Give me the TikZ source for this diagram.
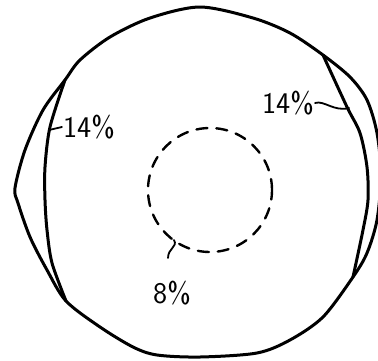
\documentclass[tikz,border=0pt]{standalone}
\usepackage{fontspec}
\usepackage{tikz}
\usetikzlibrary{positioning}

\begin{document}
\begin{tikzpicture}[x=1pt, y=-1pt, line cap=round, line join=round,
  outline/.style={line width=3pt},
  zone/.style={line width=2.4pt, dash pattern=on 11pt off 9pt},
  pct/.style={font=\sffamily\fontsize{30}{30}\selectfont, inner sep=1pt},
  pointer/.style={line width=1.8pt}]
  \useasboundingbox (0,0) rectangle (378,360);

  % Outline
  \draw[outline] plot[smooth cycle, tension=0.5] coordinates {
    (200,7) (253,18) (290,33) (323,55) (350,77) (367,100) (377,133)
    (381,175) (377,220) (367,253) (353,277) (323,317) (290,340)
    (257,353) (200,357) (157,355) (133,347) (100,327) (66,301)
    (47,270) (30,237) (18,203) (15,188) (25,150) (43,110) (65,80)
    (80,60) (110,37) (150,18)};

  % Segments
  \draw[outline] plot[smooth, tension=0.5] coordinates {
    (65,80) (50,127) (45,167) (45,200) (47,230) (52,263) (66,301)};
  \draw[outline] plot[smooth, tension=0.5] coordinates {
    (323,55) (347,107) (360,133) (367,167) (368,200) (363,230) (353,277)};

  % Inner zone
  \draw[zone] (210,190) circle[radius=62pt];
  \coordinate (zonehit) at (174,240);

  % Labels
  \node[pct] (leftpct) at (89,127) {14\%};
  \node[pct] (rightpct) at (288,103) {14\%};
  \node[pct] (zonepct) at (172,293) {8\%};

  % Pointers
  \coordinate (lefthit) at (49,130);
  \coordinate (righthit) at (349,108);
  \coordinate (zoneend) at (168,258);
  \draw[pointer] (leftpct.west) -- (lefthit);
  \draw[pointer] (rightpct.east) .. controls (324,100) and (334,112) .. (righthit);
  \draw[pointer] (zonehit) .. controls (178,247) and (168,248) .. (zoneend);
\end{tikzpicture}
\end{document}
